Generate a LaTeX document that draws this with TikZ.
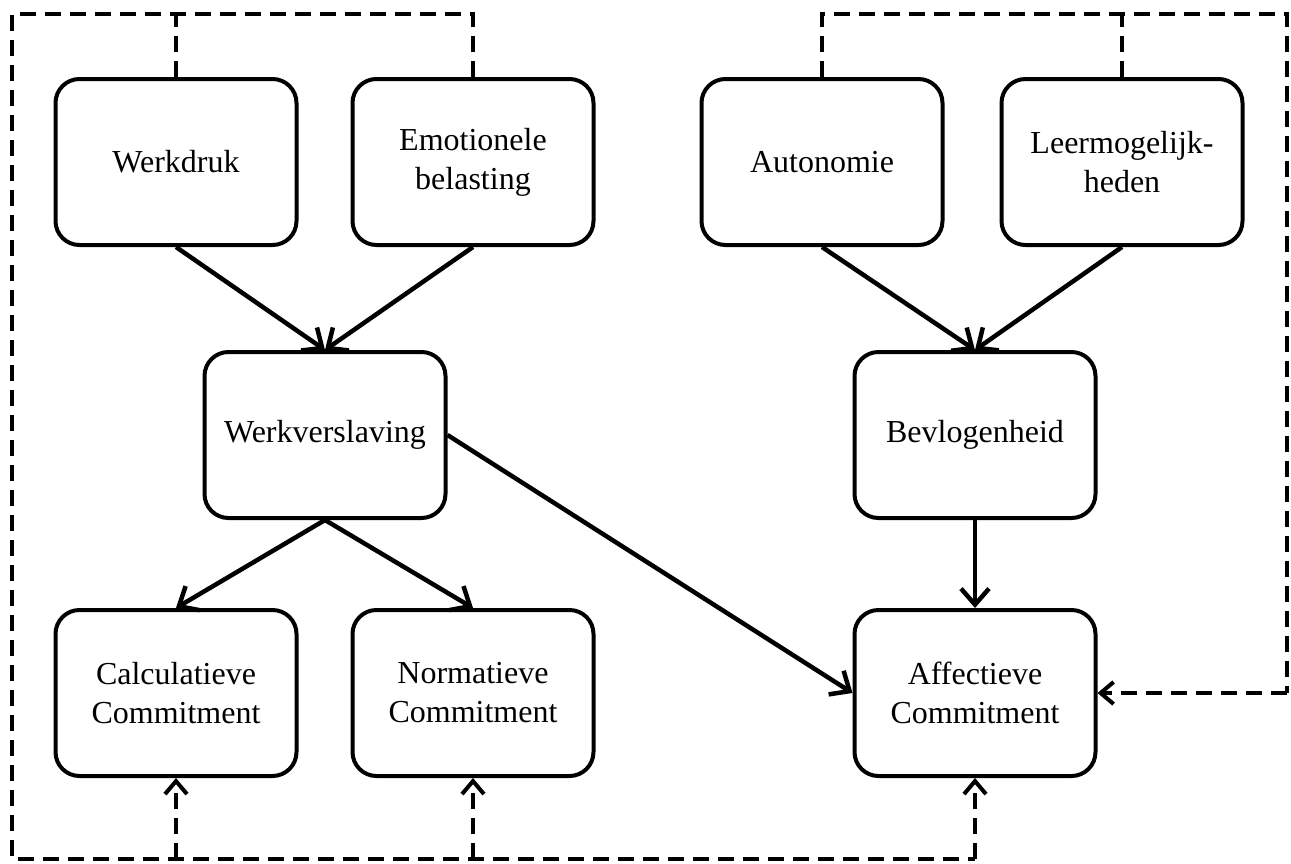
\documentclass[tikz,border=0pt]{standalone}
\usepackage{fontspec}
\setmainfont{Liberation Serif}
\usetikzlibrary{arrows.meta}
\begin{document}
\begin{tikzpicture}[x=1pt,y=-1pt,
  box/.style={draw, line width=4pt, rounded corners=24pt, minimum width=241pt,
    minimum height=166pt, align=center, font=\fontsize{32}{39}\selectfont, inner sep=0pt},
  arr/.style={line width=4.5pt, -{Straight Barb[length=16pt,width=28pt]}},
  dsh/.style={line width=4pt, dash pattern=on 16pt off 9pt},
  darr/.style={dsh, -{Straight Barb[length=13pt,width=22pt]}}]
\useasboundingbox (0,0) rectangle (1291,863);

\node[box] (wd) at (176,162) {Werkdruk};
\node[box] (eb) at (473,162) {Emotionele\\belasting};
\node[box] (au) at (822,162) {Autonomie};
\node[box] (lm) at (1122,162) {Leermogelijk-\\heden};
\node[box] (wv) at (325,435) {Werkverslaving};
\node[box] (bv) at (975,435) {Bevlogenheid};
\node[box] (cc) at (176,693) {Calculatieve\\Commitment};
\node[box] (nc) at (473,693) {Normatieve\\Commitment};
\node[box] (ac) at (975,693) {Affectieve\\Commitment};

% solid arrows
\draw[arr] (wd.south) -- (wv.north);
\draw[arr] (eb.south) -- (wv.north);
\draw[arr] (au.south) -- (bv.north);
\draw[arr] (lm.south) -- (bv.north);
\draw[arr] (wv.south) -- (cc.north);
\draw[arr] (wv.south) -- (nc.north);
\draw[arr] (wv.east) -- (ac.west);
\draw[arr] (bv.south) -- (ac.north);

% dashed feedback lines (left)
\coordinate (tl) at (12,14);
\coordinate (bl) at (12,859);
\coordinate (wdt) at (176,14);
\coordinate (ebt) at (473,14);
\coordinate (ccb) at (176,859);
\coordinate (ncb) at (473,859);
\coordinate (acb) at (975,859);
\draw[dsh] (eb.north) -- (ebt) -- (tl) -- (bl) -- (acb);
\draw[dsh] (wd.north) -- (wdt);
\draw[darr] (ccb) -- (cc.south);
\draw[darr] (ncb) -- (nc.south);
\draw[darr] (acb) -- (ac.south);

% dashed feedback lines (right)
\coordinate (aut) at (822,14);
\coordinate (lmt) at (1122,14);
\coordinate (tr) at (1287,14);
\coordinate (rr) at (1287,693);
\draw[dsh] (au.north) -- (aut) -- (tr) -- (rr);
\draw[dsh] (lm.north) -- (lmt);
\draw[darr] (rr) -- (ac.east);
\end{tikzpicture}
\end{document}
